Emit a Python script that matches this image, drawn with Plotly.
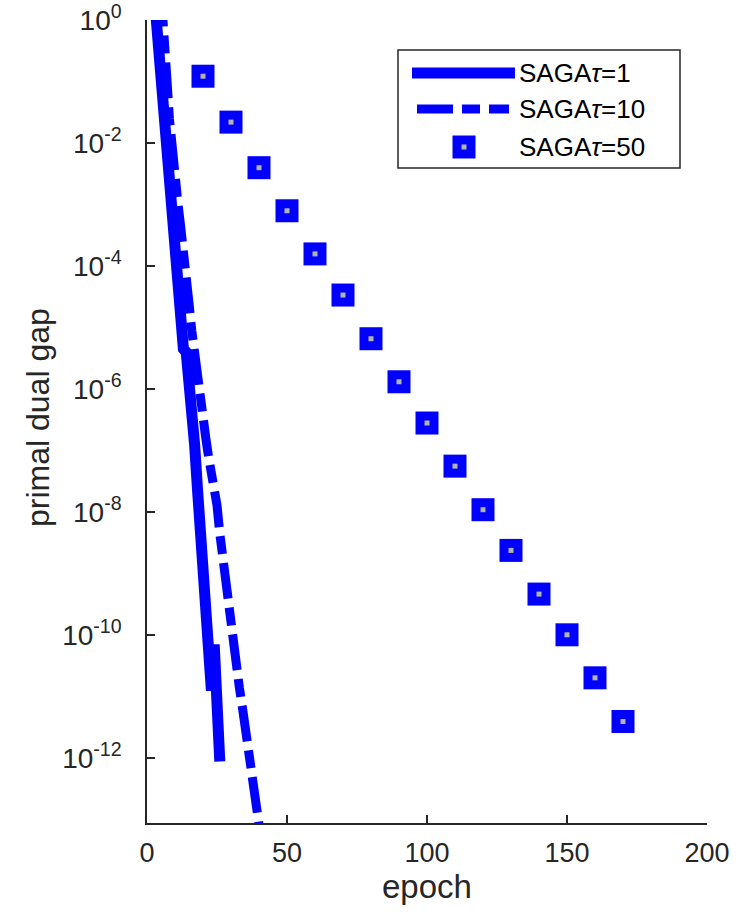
import plotly.graph_objects as go

# ---------------- data ----------------
epochs_tau1 = list(range(3, 27))
gap_tau1 = [1.5, 4.0e-1, 1.0e-1, 2.5e-2, 6.3e-3, 1.6e-3, 5.0e-4, 2.2e-4,
            5.0e-5, 2.0e-5, 4.5e-6, 4.0e-6, 1.4e-6, 6.3e-7, 1.26e-7, 2.5e-8, 6.3e-9, 2.0e-9,
            5.0e-10, 7.9e-11, 1.26e-11, 7.1e-11, 7.9e-12, 8.9e-13]

epochs_tau10 = list(range(5, 42))
gap_tau10 = [3.0, 9.0e-1, 1.3e-1, 2.5e-2, 6.3e-3, 2.8e-3,
             1.1e-3, 4.5e-4, 2.0e-4, 7.1e-5, 2.5e-5, 8.9e-6, 3.5e-6, 1.4e-6, 6.3e-7, 3.2e-7,
             1.6e-7, 7.9e-8, 4.5e-8, 2.5e-8, 1.3e-8, 4.5e-9, 1.8e-9, 7.9e-10, 3.5e-10, 1.6e-10,
             7.1e-11, 3.2e-11, 1.4e-11, 7.1e-12, 3.2e-12, 1.4e-12, 6.3e-13, 3.2e-13, 1.6e-13,
             7.9e-14, 4.0e-14]

epochs_tau50 = [20, 30, 40, 50, 60, 70, 80, 90, 100, 110, 120, 130, 140, 150, 160, 170]
gap_tau50 = [1.22e-1, 2.19e-2, 3.98e-3, 7.94e-4, 1.58e-4, 3.39e-5, 6.61e-6, 1.32e-6,
             2.82e-7, 5.62e-8, 1.10e-8, 2.40e-9, 4.68e-10, 1.02e-10, 2.04e-11, 3.98e-12]

series_names = ["SAGA<i>τ</i>=1", "SAGA<i>τ</i>=10", "SAGA<i>τ</i>=50"]

x_tickvals = [0, 50, 100, 150, 200]
y_tickvals = [1e0, 1e-2, 1e-4, 1e-6, 1e-8, 1e-10, 1e-12]
y_ticktext = ["10<sup>0</sup>", "10<sup>-2</sup>", "10<sup>-4</sup>", "10<sup>-6</sup>",
              "10<sup>-8</sup>", "10<sup>-10</sup>", "10<sup>-12</sup>"]

x_title = "epoch"
y_title = "primal dual gap"

# ---------------- style ----------------
BLUE = "#0000ff"
AXC = "#262626"
FONT = "Liberation Sans, Arial, Helvetica, sans-serif"
DASH = "36px,9px,18px,9px"

W, H = 739, 916
L, R, T, B = 147, 32, 20, 93

fig = go.Figure()
fig.add_trace(go.Scatter(x=epochs_tau1, y=gap_tau1, mode="lines", name=series_names[0],
                         line=dict(color=BLUE, width=11), showlegend=False))
fig.add_trace(go.Scatter(x=epochs_tau10, y=gap_tau10, mode="lines", name=series_names[1],
                         line=dict(color=BLUE, width=9, dash=DASH), showlegend=False))
fig.add_trace(go.Scatter(x=epochs_tau50, y=gap_tau50, mode="markers", name=series_names[2],
                         marker=dict(symbol="square", size=23, color=BLUE, line=dict(width=0)),
                         showlegend=False, cliponaxis=False))
fig.add_trace(go.Scatter(x=epochs_tau50, y=gap_tau50, mode="markers", hoverinfo="skip",
                         marker=dict(symbol="square", size=5, color="#b4b4b4", line=dict(width=0)),
                         showlegend=False, cliponaxis=False))

pw = W - L - R
ph = H - T - B


def px2paper(px, py):
    return (px - L) / pw, (H - B - py) / ph


shapes = []
# legend box
x0, y0 = px2paper(398, 168)
x1, y1 = px2paper(680, 50)
shapes.append(dict(type="rect", xref="paper", yref="paper", x0=x0, y0=y0, x1=x1, y1=y1,
                   line=dict(color=AXC, width=1.5), fillcolor="white", layer="above"))
# solid sample
a, b = px2paper(412, 73)
c, d = px2paper(515, 73)
shapes.append(dict(type="line", xref="paper", yref="paper", x0=a, y0=b, x1=c, y1=d,
                   line=dict(color=BLUE, width=11), layer="above"))
# dashed sample
a, b = px2paper(417, 109)
c, d = px2paper(509, 109)
shapes.append(dict(type="line", xref="paper", yref="paper", x0=a, y0=b, x1=c, y1=d,
                   line=dict(color=BLUE, width=9, dash=DASH), layer="above"))
# marker sample
a, b = px2paper(452.5, 158.5)
c, d = px2paper(475.5, 135.5)
shapes.append(dict(type="rect", xref="paper", yref="paper", x0=a, y0=b, x1=c, y1=d,
                   line=dict(width=0), fillcolor=BLUE, layer="above"))
a, b = px2paper(461.5, 149.5)
c, d = px2paper(466.5, 144.5)
shapes.append(dict(type="rect", xref="paper", yref="paper", x0=a, y0=b, x1=c, y1=d,
                   line=dict(width=0), fillcolor="#b4b4b4", layer="above"))

annotations = []
for name, py in zip(series_names, [73, 109, 147]):
    ax_, ay_ = px2paper(517, py)
    annotations.append(dict(text=name, xref="paper", yref="paper", x=ax_, y=ay_,
                            xanchor="left", yanchor="middle", showarrow=False,
                            font=dict(family=FONT, size=26, color="black")))
# axis titles
ax_, ay_ = px2paper(426.7, 886)
annotations.append(dict(text=x_title, xref="paper", yref="paper", x=ax_, y=ay_,
                        xanchor="center", yanchor="middle", showarrow=False,
                        font=dict(family=FONT, size=33, color=AXC)))
ax_, ay_ = px2paper(38, 418)
annotations.append(dict(text=y_title, xref="paper", yref="paper", x=ax_, y=ay_, textangle=-90,
                        xanchor="center", yanchor="middle", showarrow=False,
                        font=dict(family=FONT, size=32, color=AXC)))

fig.update_layout(
    width=W, height=H,
    margin=dict(l=L, r=R, t=T, b=B, pad=0),
    paper_bgcolor="white", plot_bgcolor="white",
    font=dict(family=FONT, size=27, color=AXC),
    shapes=shapes, annotations=annotations,
    showlegend=False,
)
fig.update_xaxes(range=[0, 200], tickvals=x_tickvals, ticks="inside", ticklen=8, tickwidth=1.5,
                 tickcolor=AXC, showline=True, linecolor=AXC, linewidth=1.5, mirror=False,
                 showgrid=False, zeroline=False, tickfont=dict(size=27, color=AXC),
                 automargin=False, ticklabelstandoff=5)
fig.update_yaxes(type="log", range=[-13.05, 0], tickvals=y_tickvals, ticktext=y_ticktext,
                 ticks="inside", ticklen=8, tickwidth=1.5, tickcolor=AXC, showline=True,
                 linecolor=AXC, linewidth=1.5, mirror=False, showgrid=False, zeroline=False,
                 tickfont=dict(size=28, color=AXC), automargin=False, ticklabelstandoff=18)

fig.write_html("out.html", config={"displayModeBar": False},
               post_script="document.body.style.margin='0px';"
               "document.body.style.padding='0px';")
